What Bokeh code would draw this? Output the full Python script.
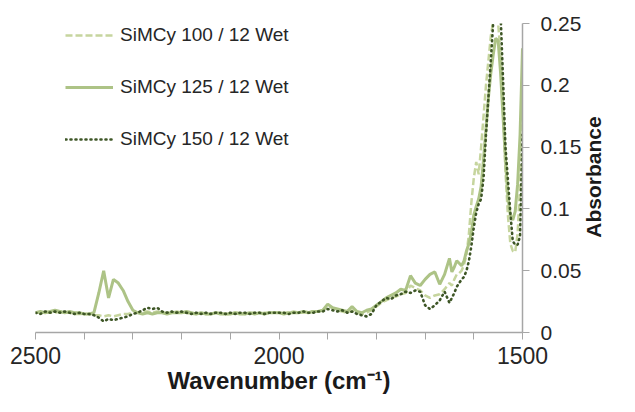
import math
from bokeh.plotting import figure
from bokeh.models import (Range1d, FixedTicker, NumeralTickFormatter, Legend, LegendItem,
                          LinearAxis, CustomJSTickFormatter)
from bokeh.embed import file_html
from bokeh.resources import INLINE

# Wavenumber grid (cm-1): step 10 from 2500 to 1650, then step 5 to 1500
wavenumber = [2500, 2490, 2480, 2470, 2460, 2450, 2440, 2430, 2420, 2410,
              2400, 2390, 2380, 2370, 2360, 2350, 2340, 2330, 2320, 2310,
              2300, 2290, 2280, 2270, 2260, 2250, 2240, 2230, 2220, 2210,
              2200, 2190, 2180, 2170, 2160, 2150, 2140, 2130, 2120, 2110,
              2100, 2090, 2080, 2070, 2060, 2050, 2040, 2030, 2020, 2010,
              2000, 1990, 1980, 1970, 1960, 1950, 1940, 1930, 1920, 1910,
              1900, 1890, 1880, 1870, 1860, 1850, 1840, 1830, 1820, 1810,
              1800, 1790, 1780, 1770, 1760, 1750, 1740, 1730, 1720, 1710,
              1700, 1690, 1680, 1670, 1660, 1650,
              1645, 1640, 1635, 1630, 1625, 1620, 1615, 1610, 1605, 1600,
              1595, 1590, 1585, 1580, 1575, 1570, 1565, 1560, 1555, 1550,
              1545, 1540, 1535, 1530, 1525, 1520, 1515, 1510, 1505, 1500]

simcy_100 = [0.016, 0.016, 0.017, 0.016, 0.016, 0.017, 0.016, 0.016, 0.015, 0.015,
             0.015, 0.015, 0.014, 0.014, 0.013, 0.014, 0.013, 0.014, 0.015, 0.015,
             0.016, 0.016, 0.017, 0.017, 0.016, 0.017, 0.016, 0.016, 0.016, 0.017,
             0.016, 0.016, 0.015, 0.015, 0.016, 0.015, 0.015, 0.016, 0.016, 0.015,
             0.015, 0.016, 0.016, 0.015, 0.016, 0.016, 0.015, 0.016, 0.016, 0.016,
             0.016, 0.016, 0.016, 0.017, 0.016, 0.016, 0.017, 0.017, 0.017, 0.018,
             0.021, 0.020, 0.018, 0.017, 0.016, 0.018, 0.016, 0.015, 0.016, 0.018,
             0.021, 0.024, 0.026, 0.028, 0.029, 0.031, 0.032, 0.038, 0.036, 0.034,
             0.030, 0.028, 0.030, 0.031, 0.035, 0.040,
             0.038, 0.043, 0.047, 0.048, 0.050, 0.055, 0.063, 0.080, 0.105, 0.125,
             0.138, 0.128, 0.150, 0.175, 0.200, 0.220, 0.240, 0.252, 0.258, 0.250,
             0.225, 0.180, 0.130, 0.095, 0.072, 0.066, 0.065, 0.080, 0.120, 0.180]

simcy_125 = [0.016, 0.017, 0.016, 0.017, 0.018, 0.017, 0.016, 0.017, 0.016, 0.016,
             0.015, 0.015, 0.016, 0.032, 0.050, 0.028, 0.043, 0.040, 0.034, 0.025,
             0.018, 0.016, 0.015, 0.016, 0.015, 0.016, 0.016, 0.015, 0.016, 0.016,
             0.016, 0.017, 0.016, 0.015, 0.016, 0.015, 0.015, 0.016, 0.015, 0.015,
             0.015, 0.016, 0.015, 0.015, 0.016, 0.015, 0.016, 0.015, 0.016, 0.016,
             0.016, 0.015, 0.016, 0.016, 0.016, 0.017, 0.016, 0.017, 0.017, 0.018,
             0.023, 0.020, 0.019, 0.018, 0.017, 0.021, 0.017, 0.016, 0.018, 0.019,
             0.022, 0.025, 0.028, 0.030, 0.032, 0.035, 0.034, 0.046, 0.040, 0.038,
             0.043, 0.047, 0.049, 0.039, 0.047, 0.060,
             0.049, 0.053, 0.058, 0.056, 0.054, 0.058, 0.066, 0.072, 0.081, 0.095,
             0.102, 0.108, 0.118, 0.140, 0.165, 0.190, 0.210, 0.225, 0.238, 0.236,
             0.210, 0.175, 0.140, 0.110, 0.095, 0.091, 0.098, 0.120, 0.160, 0.230]

simcy_150 = [0.016, 0.015, 0.017, 0.016, 0.017, 0.016, 0.017, 0.016, 0.015, 0.016,
             0.015, 0.015, 0.014, 0.012, 0.009, 0.011, 0.010, 0.011, 0.012, 0.013,
             0.015, 0.016, 0.018, 0.020, 0.019, 0.020, 0.017, 0.016, 0.017, 0.016,
             0.017, 0.016, 0.015, 0.016, 0.015, 0.016, 0.015, 0.016, 0.016, 0.015,
             0.016, 0.015, 0.016, 0.016, 0.015, 0.016, 0.016, 0.015, 0.016, 0.016,
             0.016, 0.016, 0.015, 0.016, 0.016, 0.017, 0.016, 0.016, 0.017, 0.017,
             0.019, 0.018, 0.017, 0.018, 0.016, 0.017, 0.015, 0.014, 0.013, 0.015,
             0.022, 0.025, 0.028, 0.027, 0.030, 0.031, 0.033, 0.032, 0.034, 0.033,
             0.022, 0.019, 0.022, 0.026, 0.033, 0.024,
             0.028, 0.032, 0.037, 0.040, 0.043, 0.045, 0.050, 0.058, 0.070, 0.085,
             0.097, 0.104, 0.108, 0.125, 0.160, 0.190, 0.220, 0.252, 0.270, 0.275,
             0.258, 0.205, 0.150, 0.124, 0.097, 0.074, 0.071, 0.071, 0.078, 0.160]

series_names = ["SiMCy 100 / 12 Wet", "SiMCy 125 / 12 Wet", "SiMCy 150 / 12 Wet"]
x_major_ticks = [2500, 2000, 1500]
x_minor_ticks = [2400, 2300, 2200, 2100, 1900, 1800, 1700, 1600]
y_ticks = [0, 0.05, 0.1, 0.15, 0.2, 0.25]
x_title = "Wavenumber (cm\u207b\u00b9)"
y_title = "Absorbance"

FONT = "Liberation Sans"

p = figure(width=619, height=396, output_backend="svg", toolbar_location=None,
           x_range=Range1d(2500, 1500), y_range=Range1d(0, 0.25),
           y_axis_location="right",
           min_border_left=35, min_border_right=84, min_border_top=23, min_border_bottom=60)
p.outline_line_color = None
p.xgrid.visible = False
p.ygrid.visible = False
p.background_fill_color = "white"
p.border_fill_color = "white"

r1 = p.line(wavenumber, simcy_100, line_color="#c6d59e", line_width=2.5, line_dash="7 3")
r2 = p.line(wavenumber, simcy_125, line_color="#adc386", line_width=3)
r3 = p.line(wavenumber, simcy_150, line_color="#3e5626", line_width=2.6, line_dash="1 4",
            line_cap="round")

AX = "#a6a6a6"
xa = p.xaxis[0]
xa.ticker = FixedTicker(ticks=x_major_ticks, minor_ticks=x_minor_ticks)
xa.axis_line_color = AX
xa.axis_line_width = 1.5
xa.major_tick_line_color = AX
xa.minor_tick_line_color = AX
xa.major_tick_out = 7
xa.major_tick_in = 0
xa.minor_tick_out = 7
xa.minor_tick_in = 0
xa.major_label_text_font = FONT
xa.major_label_text_font_size = "23px"
xa.major_label_text_color = "#262626"
xa.major_label_standoff = 7
xa.axis_label = x_title
xa.axis_label_text_font = FONT
xa.axis_label_text_font_size = "24px"
xa.axis_label_text_font_style = "bold"
xa.axis_label_text_color = "#1a1a1a"
xa.axis_label_standoff = 0

ya = p.yaxis[0]
ya.ticker = FixedTicker(ticks=y_ticks, minor_ticks=[])
ya.formatter = NumeralTickFormatter(format="0.[00]")
ya.axis_line_color = AX
ya.axis_line_width = 1.5
ya.major_tick_line_color = AX
ya.major_tick_out = 7
ya.major_tick_in = 0
ya.minor_tick_line_color = None
ya.major_label_text_font = FONT
ya.major_label_text_font_size = "21px"
ya.major_label_text_color = "#262626"
ya.major_label_standoff = 11

# Title of the y axis, reading bottom-to-top, drawn as the single label of a bare axis.
# The rotated label starts at its tick and runs upward, so the tick sits below mid-height.
ytitle_axis = LinearAxis(ticker=FixedTicker(ticks=[0.0767], minor_ticks=[]),
                         formatter=CustomJSTickFormatter(code="return '%s'" % y_title))
ytitle_axis.axis_line_color = None
ytitle_axis.major_tick_line_color = None
ytitle_axis.minor_tick_line_color = None
ytitle_axis.major_tick_out = 0
ytitle_axis.major_tick_in = 0
ytitle_axis.major_label_standoff = 9
ytitle_axis.major_label_orientation = math.pi / 2
ytitle_axis.major_label_text_font = FONT
ytitle_axis.major_label_text_font_size = "21px"
ytitle_axis.major_label_text_font_style = "bold"
ytitle_axis.major_label_text_color = "#1a1a1a"
p.add_layout(ytitle_axis, "right")

legend = Legend(items=[LegendItem(label=series_names[0], renderers=[r1]),
                       LegendItem(label=series_names[1], renderers=[r2]),
                       LegendItem(label=series_names[2], renderers=[r3])],
                location=(30, 182))
legend.background_fill_alpha = 0
legend.border_line_alpha = 0
legend.padding = 0
legend.margin = 0
legend.glyph_width = 48
legend.glyph_height = 20
legend.label_height = 20
legend.spacing = 30
legend.label_standoff = 7
legend.label_text_font = FONT
legend.label_text_font_size = "19px"
legend.label_text_color = "#262626"
p.add_layout(legend, "center")

open("out.html", "w").write(file_html(p, INLINE))
